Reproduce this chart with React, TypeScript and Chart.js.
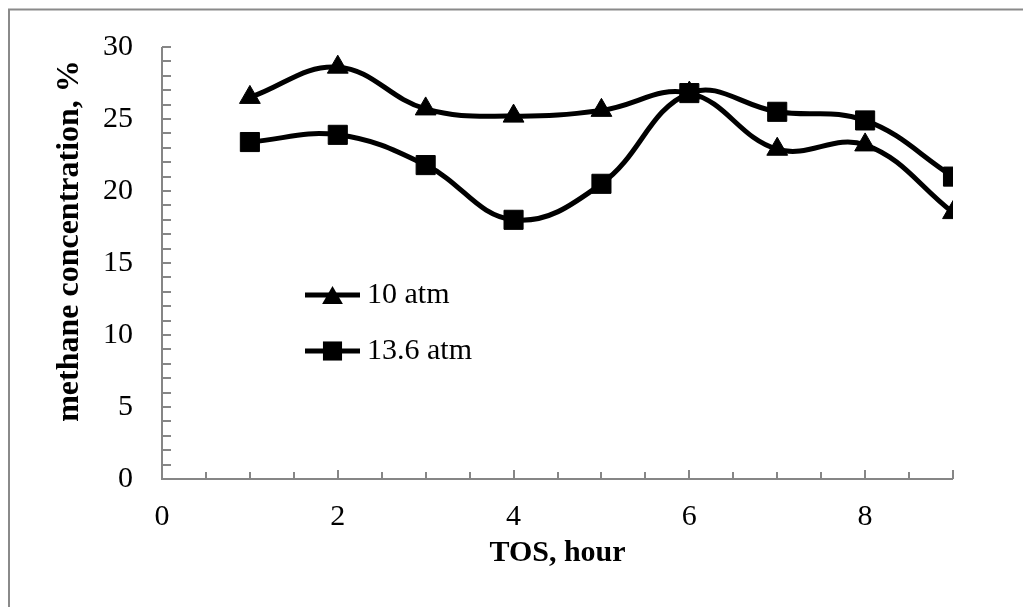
import React, { useEffect, useRef } from 'react';
import { Chart, registerables } from 'chart.js';

Chart.register(...registerables);

// ---- data ----
const hours = [1, 2, 3, 4, 5, 6, 7, 8, 9];
const methane10atm = [26.5, 28.6, 25.7, 25.2, 25.6, 26.8, 22.9, 23.2, 18.5];
const methane136atm = [23.4, 23.9, 21.8, 18.0, 20.5, 26.8, 25.5, 24.9, 21.0];
const seriesLabels = ['10 atm', '13.6 atm'];
const xTickValues = [0, 2, 4, 6, 8];
const yTickValues = [0, 5, 10, 15, 20, 25, 30];
const xAxisTitle = 'TOS, hour';
const yAxisTitle = 'methane concentration, %';

const FONT = "'Liberation Serif', 'Times New Roman', serif";
const AXIS_COLOR = '#868686';

const decorPlugin = {
  id: 'decor',
  beforeDraw(chart: any) {
    const ctx = chart.ctx;
    ctx.save();
    ctx.fillStyle = '#ffffff';
    ctx.fillRect(0, 0, chart.width, chart.height);
    ctx.strokeStyle = '#8a8a8a';
    ctx.lineWidth = 2;
    ctx.beginPath();
    ctx.moveTo(9, chart.height);
    ctx.lineTo(9, 9.5);
    ctx.lineTo(chart.width, 9.5);
    ctx.stroke();
    ctx.restore();
  },
  beforeDatasetsDraw(chart: any) {
    const ctx = chart.ctx;
    const xs = chart.scales.x;
    const ys = chart.scales.y;
    const { left, right, top, bottom } = chart.chartArea;
    ctx.save();
    ctx.strokeStyle = AXIS_COLOR;
    ctx.lineWidth = 2;
    ctx.beginPath();
    ctx.moveTo(left, top);
    ctx.lineTo(left, bottom);
    ctx.lineTo(right, bottom);
    ctx.stroke();
    ctx.beginPath();
    for (let v = ys.min; v <= ys.max + 1e-9; v += 1) {
      const py = Math.round(ys.getPixelForValue(v));
      ctx.moveTo(left, py);
      ctx.lineTo(left + 9, py);
    }
    for (let v = xs.min; v <= xs.max + 1e-9; v += 0.5) {
      const px = Math.round(xs.getPixelForValue(v));
      const major = xTickValues.includes(v) || v === xs.max;
      ctx.moveTo(px, bottom);
      ctx.lineTo(px, bottom - (major ? 9 : 7));
    }
    ctx.stroke();
    ctx.restore();
  },
  afterDraw(chart: any) {
    const ctx = chart.ctx;
    ctx.save();
    ctx.fillStyle = '#000';
    // axis titles
    ctx.textAlign = 'center';
    ctx.textBaseline = 'middle';
    const { left, right } = chart.chartArea;
    ctx.font = `bold 30px ${FONT}`;
    ctx.fillText(xAxisTitle, (left + right) / 2, 553);
    ctx.save();
    ctx.translate(70, 241);
    ctx.rotate(-Math.PI / 2);
    ctx.font = `bold 32px ${FONT}`;
    ctx.fillText(yAxisTitle, 0, 0);
    ctx.restore();

    // legend
    const legendX0 = 305;
    const legendX1 = 360;
    const legendYs = [295, 351];
    chart.data.datasets.forEach((ds: any, i: number) => {
      const yy = legendYs[i];
      ctx.strokeStyle = '#000';
      ctx.lineWidth = ds.borderWidth;
      ctx.beginPath();
      ctx.moveTo(legendX0, yy);
      ctx.lineTo(legendX1, yy);
      ctx.stroke();
      ctx.fillStyle = '#000';
      const cx = (legendX0 + legendX1) / 2;
      if (ds.pointStyle === 'triangle') {
        const r = ds.pointRadius;
        ctx.beginPath();
        ctx.moveTo(cx, yy - r + r / 4);
        ctx.lineTo(cx + (Math.sqrt(3) / 2) * r, yy + r / 2 + r / 4);
        ctx.lineTo(cx - (Math.sqrt(3) / 2) * r, yy + r / 2 + r / 4);
        ctx.closePath();
        ctx.fill();
      } else {
        const s = ds.pointRadius * Math.SQRT1_2;
        ctx.fillRect(cx - s, yy - s, 2 * s, 2 * s);
      }
      ctx.font = `30px ${FONT}`;
      ctx.textAlign = 'left';
      ctx.textBaseline = 'middle';
      ctx.fillText(ds.label, 367, yy);
    });
    ctx.restore();
  },
};

export default function App() {
  const canvasRef = useRef<HTMLCanvasElement | null>(null);

  useEffect(() => {
    const canvas = canvasRef.current;
    if (!canvas) return;
    const chart = new Chart(canvas, {
      type: 'line',
      data: {
        datasets: [
          {
            label: seriesLabels[0],
            data: hours.map((h, i) => ({ x: h, y: methane10atm[i] })),
            borderColor: '#000',
            backgroundColor: '#000',
            borderWidth: 5,
            pointStyle: 'triangle',
            pointRadius: 12,
            pointBorderWidth: 1,
            pointBackgroundColor: '#000',
            pointBorderColor: '#000',
            tension: 0.4,
            fill: false,
          },
          {
            label: seriesLabels[1],
            data: hours.map((h, i) => ({ x: h, y: methane136atm[i] })),
            borderColor: '#000',
            backgroundColor: '#000',
            borderWidth: 5,
            pointStyle: 'rect',
            pointRadius: 13.5,
            pointBorderWidth: 1,
            pointBackgroundColor: '#000',
            pointBorderColor: '#000',
            tension: 0.4,
            fill: false,
          },
        ],
      },
      options: {
        animation: false,
        responsive: false,
        devicePixelRatio: 1,
        layout: { padding: { top: 41, right: 70, left: 0, bottom: 0 } },
        plugins: {
          legend: { display: false },
          tooltip: { enabled: false },
          title: { display: false },
        },
        scales: {
          x: {
            type: 'linear',
            min: 0,
            max: 9,
            grid: { display: false, drawTicks: false },
            border: { display: false },
            afterBuildTicks: (scale: any) => {
              scale.ticks = xTickValues.map((v) => ({ value: v }));
            },
            afterFit: (scale: any) => {
              scale.height = 128;
            },
            ticks: {
              color: '#000',
              padding: 20,
              maxRotation: 0,
              font: { family: FONT, size: 30 },
            },
          },
          y: {
            type: 'linear',
            min: 0,
            max: 30,
            grid: { display: false, drawTicks: false },
            border: { display: false },
            afterBuildTicks: (scale: any) => {
              scale.ticks = yTickValues.map((v) => ({ value: v }));
            },
            afterFit: (scale: any) => {
              scale.width = 162;
            },
            ticks: {
              color: '#000',
              padding: 29,
              font: { family: FONT, size: 30 },
            },
          },
        },
      },
      plugins: [decorPlugin],
    });
    return () => chart.destroy();
  }, []);

  return (
    <div style={{ position: 'fixed', left: 0, top: 0, width: 1023, height: 607, background: '#fff' }}>
      <canvas ref={canvasRef} width={1023} height={607} style={{ display: 'block' }} />
    </div>
  );
}
